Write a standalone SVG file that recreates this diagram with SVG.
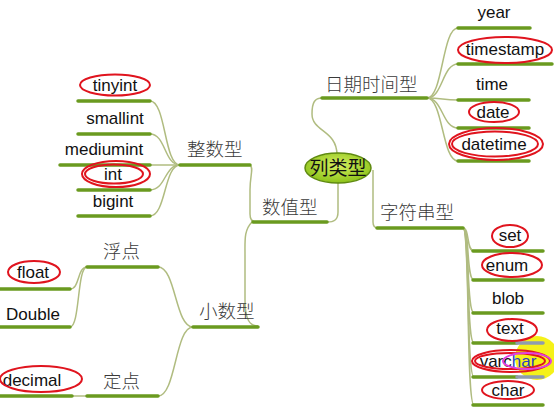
<svg xmlns="http://www.w3.org/2000/svg" width="554" height="407" viewBox="0 0 554 407">
<defs>
<radialGradient id="cg" cx="50%" cy="40%" r="60%">
<stop offset="0" stop-color="#d6f060"/>
<stop offset="1" stop-color="#8cc21a"/>
</radialGradient>
<style>
.u{stroke:#6a9a1f;stroke-width:3.5;fill:none;stroke-linecap:round}
.c{stroke:#b0bc80;stroke-width:1.5;fill:none}
.t{font-family:"Liberation Sans",Arial,sans-serif;font-size:17px;fill:#111;text-anchor:middle}
.z{font-family:"Noto Sans CJK SC",sans-serif;font-size:18.5px;fill:#3a3a3a;font-weight:300}
.r{stroke:#e0141e;stroke-width:2;fill:none}
</style>
</defs>
<rect width="554" height="407" fill="#ffffff"/>

<g id="connectors">
<!-- center to branches -->
<path class="c" d="M337,155 C337,130 312,132 312,114 C312,102 315,98 322,98"/>
<path class="c" d="M338,182 L338,212 C338,220 334,222 327,222"/>
<path class="c" d="M373,170 L373,222 C373,226 375,228 378,228"/>
<path class="c" d="M250,165 C254,168 250,175 250,190 L250,214 C250,220 252,222 256,222"/>
<path class="c" d="M252,222 C244,230 245,240 245,255 L245,300 C245,320 250,326 258,326"/>
<!-- 日期时间型 leaves -->
<path class="c" d="M427,98 C443,98 442,28 458,28"/>
<path class="c" d="M427,98 C443,98 442,64 458,64"/>
<path class="c" d="M427,98 C443,98 442,100 458,100"/>
<path class="c" d="M427,98 C443,98 442,128 458,128"/>
<path class="c" d="M427,98 C443,98 442,161 458,161"/>
<!-- 整数型 leaves -->
<path class="c" d="M180,165 C164,165 166,101 150,101"/>
<path class="c" d="M180,165 C164,165 166,134 150,134"/>
<path class="c" d="M180,165 L150,165"/>
<path class="c" d="M180,165 C164,165 166,190 150,190"/>
<path class="c" d="M180,165 C164,165 166,216 150,216"/>
<!-- 字符串型 leaves -->
<path class="c" d="M463,228 C470,228 466,251 474,251"/>
<path class="c" d="M463,228 C470,228 466,280 474,280"/>
<path class="c" d="M463,228 C470,228 466,313 474,313"/>
<path class="c" d="M463,228 C470,228 466,343 474,343"/>
<path class="c" d="M463,228 C470,228 466,377 474,377"/>
<path class="c" d="M463,228 C470,228 466,405 474,405"/>
<!-- 小数型 -->
<path class="c" d="M193,327 C175,327 176,267 158,267"/>
<path class="c" d="M193,327 C175,327 176,396 158,396"/>
<path class="c" d="M87,267 C77,267 80,289 70,289"/>
<path class="c" d="M87,267 C77,267 80,327 70,327"/>
<path class="c" d="M87,396 L72,396"/>
</g>

<g id="center">
<ellipse cx="338" cy="168" rx="33" ry="15" fill="url(#cg)" stroke="#5f8a10" stroke-width="1.5"/>
<text x="338" y="175" font-family="Noto Sans CJK SC,sans-serif" font-size="19" fill="#111" text-anchor="middle">列类型</text>
</g>

<g id="riqi">
<line class="u" x1="322" y1="98" x2="427" y2="98"/>
<text class="z" x="325" y="91">日期时间型</text>
</g>
<g id="year"><line class="u" x1="458" y1="28" x2="530" y2="28"/><text class="t" x="494" y="18">year</text></g>
<g id="timestamp"><line class="u" x1="458" y1="64" x2="552" y2="64"/><text class="t" x="505" y="55">timestamp</text><ellipse class="r" cx="505" cy="50" rx="47" ry="13"/></g>
<g id="time"><line class="u" x1="458" y1="100" x2="529" y2="100"/><text class="t" x="492" y="90">time</text></g>
<g id="date"><line class="u" x1="458" y1="128" x2="529" y2="128"/><text class="t" x="493" y="118">date</text><ellipse class="r" cx="494" cy="112" rx="25" ry="10"/></g>
<g id="datetime"><line class="u" x1="458" y1="161" x2="529" y2="161"/><text class="t" x="494" y="150">datetime</text><ellipse class="r" cx="496" cy="144" rx="47" ry="16"/><ellipse class="r" cx="495" cy="144" rx="43" ry="12.5"/></g>

<g id="zhengshu">
<line class="u" x1="180" y1="165" x2="250" y2="165"/>
<text class="z" x="187" y="156">整数型</text>
</g>
<g id="tinyint"><line class="u" x1="78" y1="101" x2="150" y2="101"/><text class="t" x="115" y="91">tinyint</text><ellipse class="r" cx="115" cy="85" rx="35" ry="10.5"/></g>
<g id="smallint"><line class="u" x1="78" y1="134" x2="150" y2="134"/><text class="t" x="115" y="124">smallint</text></g>
<g id="mediumint"><line class="u" x1="60" y1="165" x2="150" y2="165"/><text class="t" x="104" y="155">mediumint</text></g>
<g id="int"><line class="u" x1="78" y1="190" x2="150" y2="190"/><text class="t" x="113" y="180">int</text><ellipse class="r" cx="116" cy="174" rx="34" ry="13"/><ellipse class="r" cx="114" cy="174" rx="29" ry="9.5"/></g>
<g id="bigint"><line class="u" x1="78" y1="216" x2="150" y2="216"/><text class="t" x="113" y="207">bigint</text></g>

<g id="shuzhi">
<line class="u" x1="253" y1="222" x2="327" y2="222"/>
<text class="z" x="262" y="214">数值型</text>
</g>

<g id="zifuchuan">
<line class="u" x1="377" y1="228" x2="463" y2="228"/>
<text class="z" x="380" y="219">字符串型</text>
</g>
<g id="set"><line class="u" x1="473" y1="251" x2="543" y2="251"/><text class="t" x="510" y="241">set</text><ellipse class="r" cx="510" cy="236" rx="18" ry="11"/></g>
<g id="enum"><line class="u" x1="473" y1="280" x2="543" y2="280"/><text class="t" x="507" y="271">enum</text><ellipse class="r" cx="512" cy="265" rx="30" ry="12"/></g>
<g id="blob"><line class="u" x1="473" y1="313" x2="543" y2="313"/><text class="t" x="508" y="304">blob</text></g>
<g id="highlight"><circle cx="537" cy="358" r="22" fill="#f4f000" opacity="0.9"/></g>
<g id="text"><line class="u" x1="473" y1="343" x2="517" y2="343"/><line x1="517" y1="343" x2="543" y2="343" stroke="#8f9cb0" stroke-width="3.5" stroke-linecap="round"/><text class="t" x="510" y="334">text</text><ellipse class="r" cx="512" cy="330" rx="25" ry="11"/></g>
<g id="varchar"><line class="u" x1="473" y1="377" x2="517" y2="377"/><line x1="517" y1="377" x2="543" y2="377" stroke="#8f9cb0" stroke-width="3.5" stroke-linecap="round"/><text class="t" x="508" y="367">varc<tspan fill="#2a3fc0">har</tspan></text><ellipse class="r" cx="511" cy="361" rx="39" ry="11"/><ellipse class="r" cx="510" cy="361" rx="35" ry="8"/><ellipse cx="527" cy="361" rx="24" ry="8" fill="none" stroke="#e040e0" stroke-width="2"/></g>
<g id="char"><line class="u" x1="473" y1="405" x2="543" y2="405"/><text class="t" x="508" y="396">char</text><ellipse class="r" cx="508" cy="390" rx="26" ry="9"/></g>

<g id="xiaoshu">
<line class="u" x1="193" y1="327" x2="258" y2="327"/>
<text class="z" x="199" y="318">小数型</text>
</g>
<g id="fudian"><line class="u" x1="87" y1="267" x2="158" y2="267"/><text class="z" x="103" y="258">浮点</text></g>
<g id="dingdian"><line class="u" x1="87" y1="396" x2="158" y2="396"/><text class="z" x="103" y="388">定点</text></g>
<g id="float"><line class="u" x1="0" y1="289" x2="70" y2="289"/><text class="t" x="33" y="278">float</text><ellipse class="r" cx="34" cy="272" rx="26" ry="11"/></g>
<g id="double"><line class="u" x1="0" y1="327" x2="70" y2="327"/><text class="t" x="33" y="320">Double</text></g>
<g id="decimal"><line class="u" x1="0" y1="396" x2="72" y2="396"/><text class="t" x="32" y="386">decimal</text><ellipse class="r" cx="41" cy="379" rx="41" ry="13"/></g>
</svg>
